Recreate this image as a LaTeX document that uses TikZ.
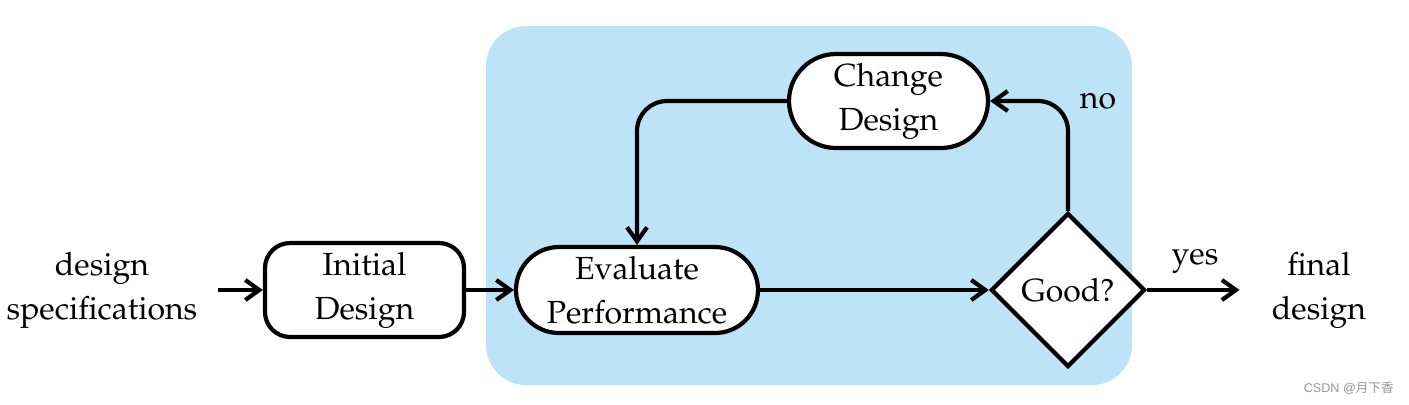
\documentclass[tikz,border=0pt]{standalone}
\usepackage{fontspec}
\newfontfamily\cjk{Noto Sans CJK SC}
\newfontfamily\wmsans{Liberation Sans}
\usetikzlibrary{shapes.geometric,arrows.meta}
\definecolor{panelblue}{RGB}{189,227,247}
\definecolor{wmgray}{RGB}{150,150,150}
\newcommand\palfont{\fontencoding{OT1}\fontfamily{ppl}\selectfont}
\tikzset{
  every node/.style={font=\palfont\fontsize{16}{22}\selectfont, align=center},
  proc/.style={draw, line width=2.1pt, fill=white, minimum width=99.5pt, minimum height=47pt, inner sep=0pt},
  decide/.style={draw, diamond, aspect=1, line width=2.1pt, fill=white, minimum width=77pt, minimum height=77pt, inner sep=0pt},
  arr/.style={line width=2.1pt, -{Straight Barb[length=7pt,width=10pt,line width=2.1pt]}},
  lbl/.style={inner sep=0pt}
}
\begin{document}
\begin{tikzpicture}[x=0.5pt,y=-0.5pt]
\useasboundingbox (0,0) rectangle (1409,404);
\fill[panelblue, rounded corners=20pt] (486,26) rectangle (1132,385);
\node[lbl, inner xsep=10pt] (spec) at (102,290) {design\\specifications};
\node[proc, rounded corners=12.5pt] (init) at (364.5,290) {Initial\\Design};
\node[proc, minimum width=121pt, minimum height=43pt, rounded corners=21.5pt] (eval) at (637,290) {Evaluate\\Performance};
\node[proc, rounded corners=23.5pt] (change) at (888.5,101) {Change\\Design};
\node[decide] (good) at (1068,290) {Good?};
\node[lbl, inner xsep=16pt] (final) at (1319,290) {final\\design};
\node[lbl] (no) at (1098,101) {no};
\node[lbl] (yes) at (1195,261) {yes};
\node[lbl, anchor=east, text=wmgray, font=\wmsans\fontsize{6.3}{7}\selectfont] (wm) at (1394,388) {CSDN @{\cjk 月下香}};
\draw[arr] (spec.east) -- (init.west);
\draw[arr] (init.east) -- (eval.west);
\draw[arr] (eval.east) -- (good.west);
\draw[arr] (good.east) -- (final.west);
\draw[arr, rounded corners=15pt] (good.north) |- (change.east);
\draw[arr, rounded corners=15pt] (change.west) -| (eval.north);
\end{tikzpicture}
\end{document}
